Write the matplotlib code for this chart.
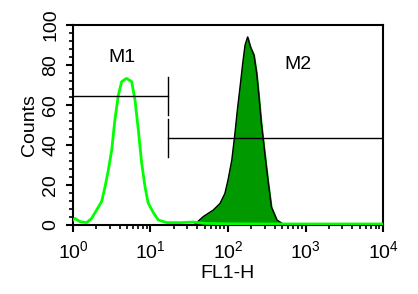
import matplotlib
matplotlib.use("Agg")
import matplotlib.pyplot as plt
from matplotlib.ticker import MultipleLocator, LogLocator

plt.rcParams['font.family'] = ['Liberation Sans', 'DejaVu Sans']
plt.rcParams['mathtext.default'] = 'regular'

# control sample (green outline)
ctrl_x = [1.0, 1.06, 1.23, 1.50, 1.74, 2.02, 2.34, 2.59, 2.86, 3.16, 3.47, 3.85, 4.25,
          4.90, 5.71, 6.31, 6.97, 7.69, 8.51, 9.33, 10.96, 12.6, 16.2, 25, 35.5, 50,
          100, 1000, 10000]
ctrl_y = [2.5, 3.3, 1.7, 1.2, 3.3, 7.5, 11.7, 19, 27.5, 37.5, 52.5, 65, 71.7,
          73.3, 71.7, 62.5, 47.5, 31, 19, 11, 6, 2.5, 1.2, 1.2, 1.5, 0.8,
          0.6, 0.5, 0.5]

# stained sample (filled)
stain_x = [36, 39.4, 47.9, 64.6, 78.9, 91.2, 100, 112, 123, 132, 143, 155, 166, 179,
           195, 216, 234, 251, 269, 302, 331, 363, 427, 490, 520]
stain_y = [0, 1.2, 4.2, 7.5, 10.8, 15.8, 22.5, 32.5, 46, 57.5, 69, 81, 90, 94,
           89, 85, 76, 64, 51, 34, 21, 9, 2.5, 1, 0]

# markers: (start, end, level)
m1 = (1, 17, 64.5)
m2 = (17, 10000, 43.5)
marker_labels = ['M1', 'M2']
label_pos = [(4.25, 83.5), (800, 80)]

fig = plt.figure(figsize=(4.18, 2.94), dpi=100)
ax = fig.add_axes([0.1746, 0.2347, 0.7417, 0.6803])

ax.fill_between(stain_x, stain_y, color='#009a00', zorder=2)
ax.plot(stain_x, stain_y, color='black', lw=1, zorder=3)
ax.plot(ctrl_x, ctrl_y, color='#00ff00', lw=2, zorder=4)

tick_half = 9.5
for (x0, x1, lvl) in (m1, m2):
    ax.plot([x0, x1], [lvl, lvl], color='black', lw=1, zorder=5)
ax.plot([m1[1], m1[1]], [m1[2] - tick_half, m1[2] + tick_half], color='black', lw=1, zorder=5)
ax.plot([m2[0], m2[0]], [m2[2] - tick_half, m2[2] + tick_half], color='black', lw=1, zorder=5)
for name, (lx, ly) in zip(marker_labels, label_pos):
    ax.text(lx, ly, name, ha='center', va='center', fontsize=14)

ax.set_xscale('log')
ax.set_xlim(1, 10000)
ax.set_ylim(0, 100)
ax.xaxis.set_major_locator(LogLocator(base=10, numticks=10))
ax.xaxis.set_minor_locator(LogLocator(base=10, subs=range(2, 10), numticks=10))
ax.yaxis.set_major_locator(MultipleLocator(20))
ax.yaxis.set_minor_locator(MultipleLocator(4))

for s in ax.spines.values():
    s.set_linewidth(1.5)
ax.tick_params(which='major', length=5, width=1.5, labelsize=14)
ax.tick_params(which='minor', length=3, width=1.2)
ax.tick_params(axis='y', labelrotation=90, pad=5)
ax.tick_params(axis='x', pad=6)
for lbl in ax.get_yticklabels():
    lbl.set_va('center')

ax.set_xlabel('FL1-H', fontsize=14, labelpad=2)
ax.set_ylabel('Counts', fontsize=14, labelpad=3)

fig.savefig('out.png', dpi=100)
